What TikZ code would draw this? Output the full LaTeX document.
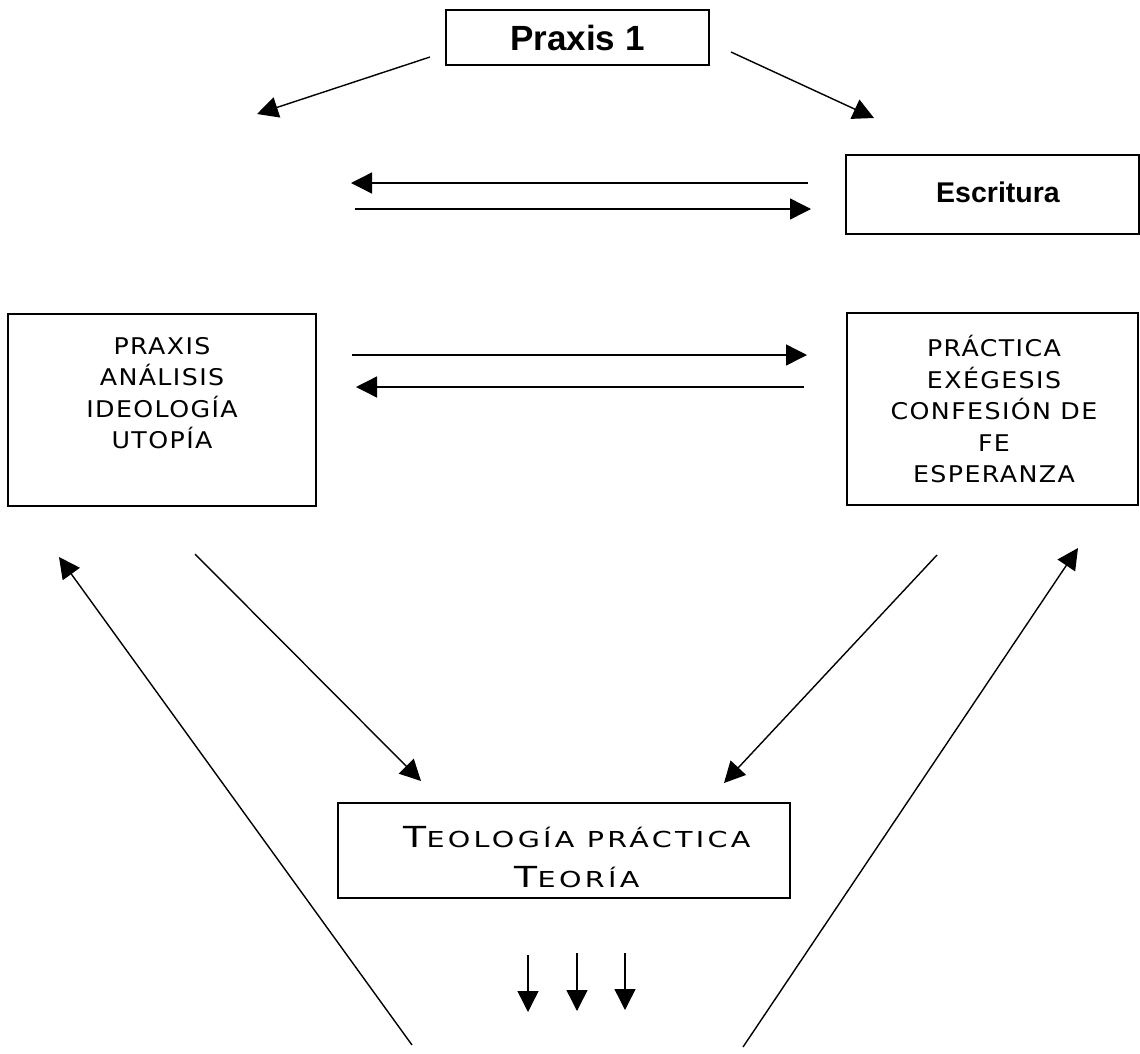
\documentclass[tikz,border=0pt]{standalone}
\usepackage{fontspec}
\setmainfont{Liberation Sans}
\newfontfamily\cpfont[FakeStretch=1.1,LetterSpace=6]{DejaVu Sans}
\newfontfamily\cpwide[FakeStretch=1.3,LetterSpace=15]{DejaVu Sans}
\usetikzlibrary{arrows.meta}
\begin{document}
\begin{tikzpicture}[x=1pt,y=-1pt,
  box/.style={draw, line width=1.3pt, inner sep=0pt},
  captxt/.style={align=center, inner sep=0pt, font=\cpfont\fontsize{23}{31.5}\selectfont},
  arr/.style={line width=1.4pt, -{Triangle[length=21pt,width=21pt]}}]
\useasboundingbox (0,0) rectangle (1140,1053);
% boxes
\node[box, minimum width=263pt, minimum height=55pt, font=\bfseries\fontsize{35}{40}\selectfont] (P1) at (577.5,37.5) {Praxis 1};
\node[box, minimum width=293pt, minimum height=79pt] (E) at (992.5,194.5) {};
\node[font=\bfseries\fontsize{28.5}{30}\selectfont, inner sep=0pt] (Et) at (998,192) {Escritura};
\node[box, minimum width=308pt, minimum height=192pt] (L) at (162,410) {};
\node[captxt] (Lt) at (162,393) {PRAXIS\\ANÁLISIS\\IDEOLOGÍA\\UTOPÍA};
\node[box, minimum width=291pt, minimum height=192pt] (R) at (992.5,409) {};
\node[captxt] (Rt) at (994,409) {PRÁCTICA\\EXÉGESIS\\CONFESIÓN DE\\FE\\ESPERANZA};
\node[box, minimum width=452pt, minimum height=95pt] (T) at (564,850.5) {};
\node[align=center, inner sep=0pt, font=\cpwide\fontsize{22}{40}\selectfont] (Tt) at (577,857) {{\fontsize{29}{40}\selectfont T}EOLOGÍA PRÁCTICA\\{\fontsize{29}{40}\selectfont T}EORÍA};
% coordinates
\coordinate (a1s) at (430,57);  \coordinate (a1e) at (257,114);
\coordinate (a2s) at (731,52);  \coordinate (a2e) at (874,118);
\coordinate (h1s) at (808,183); \coordinate (h1e) at (351,183);
\coordinate (h2s) at (355,209); \coordinate (h2e) at (811,209);
\coordinate (h3s) at (352,355); \coordinate (h3e) at (807,355);
\coordinate (h4s) at (804,387); \coordinate (h4e) at (356,387);
\coordinate (d1s) at (195,554); \coordinate (d1e) at (421,781);
\coordinate (d2s) at (937,555); \coordinate (d2e) at (724,783);
\coordinate (u1s) at (412,1045); \coordinate (u1e) at (59,557);
\coordinate (u2s) at (743,1047); \coordinate (u2e) at (1078,548);
\coordinate (v1s) at (528,955); \coordinate (v1e) at (528,1012);
\coordinate (v2s) at (577,953); \coordinate (v2e) at (577,1011);
\coordinate (v3s) at (625,953); \coordinate (v3e) at (625,1010);
% arrows
\foreach \n in {a1,a2,h1,h2,h3,h4,d1,d2,u1,u2,v1,v2,v3}
  \draw[arr] (\n s) -- (\n e);
\end{tikzpicture}
\end{document}
